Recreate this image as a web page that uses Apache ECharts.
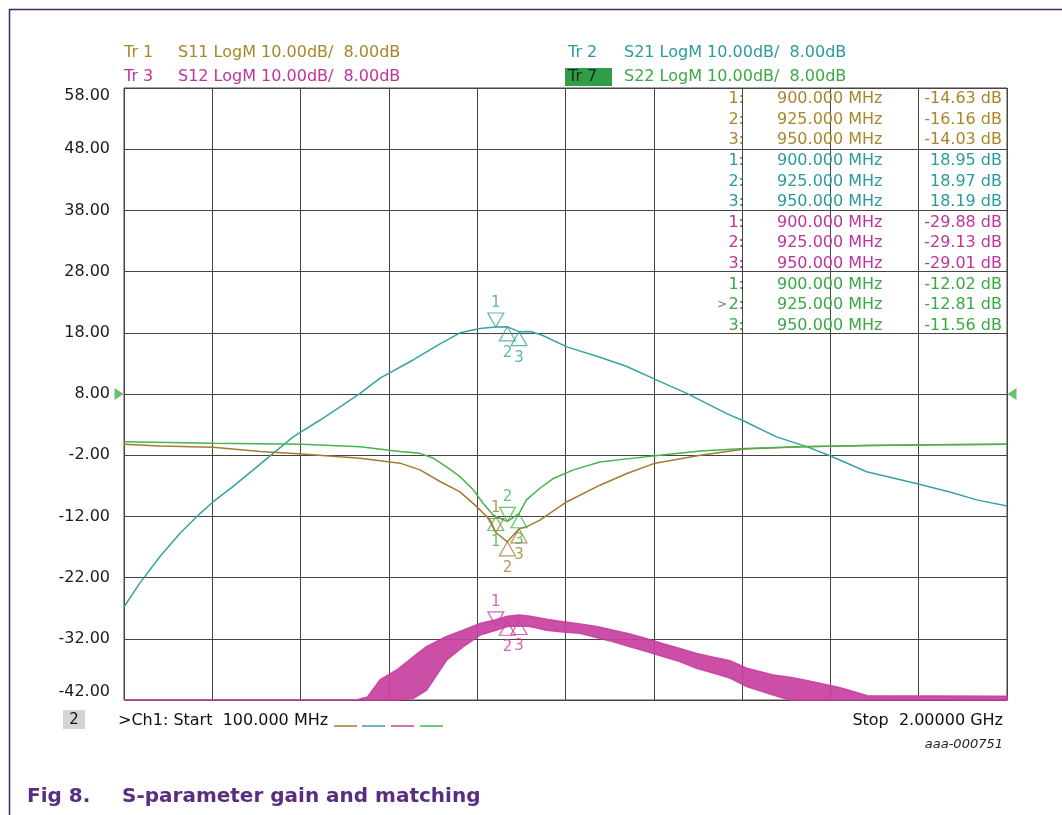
<!DOCTYPE html>
<html><head><meta charset="utf-8">
<script src="https://cdn.jsdelivr.net/npm/echarts@6/dist/echarts.min.js"></script>
<style>html,body{margin:0;padding:0;background:#fff}#c{width:1062px;height:815px}</style>
</head><body><div id="c"></div>
<script>
// ---------------- data ----------------
const freqStart = 100, freqStop = 2000;      // MHz
const yMin = -42, yMax = 58, yStep = 10, xStep = 190;
const refLevel = 8;
const markerNums = [1, 2, 3];
const markerFreqs = [900, 925, 950];

const s11Mk = [-14.63, -16.16, -14.03];
const s21Mk = [18.95, 18.97, 18.19];
const s12Mk = [-29.88, -29.13, -29.01];
const s22Mk = [-12.02, -12.81, -11.56];

const s11Freq = [100,177,292,393,483,608,694,737,780,823,859,888,900,925,950,966,995,1053,1124,1182,1243,1340,1436,1555,1700,1850,2000];
const s11Val  = [-0.2,-0.5,-0.7,-1.4,-1.8,-2.5,-3.3,-4.4,-6.3,-8.0,-10.4,-12.6,-14.63,-16.16,-14.03,-13.7,-12.6,-9.6,-6.9,-5.0,-3.3,-2.0,-1.0,-0.6,-0.4,-0.3,-0.2];

const s21Freq = [100,134,177,220,264,292,335,378,421,464,522,565,608,651,723,780,823,866,900,925,950,975,1000,1053,1124,1182,1243,1311,1397,1436,1504,1569,1619,1698,1809,1877,1935,2000];
const s21Val  = [-26.8,-22.9,-18.6,-14.8,-11.5,-9.6,-7.1,-4.4,-1.7,1.0,3.75,5.9,8.1,10.6,13.6,16.2,18.0,18.7,18.95,18.97,18.19,18.2,17.6,15.7,14.0,12.5,10.4,8.1,4.8,3.5,1.0,-0.6,-2.1,-4.7,-6.7,-8.0,-9.3,-10.3];

const s22Freq = [100,292,483,608,694,737,766,794,823,852,873,895,900,925,950,966,995,1024,1067,1124,1182,1243,1340,1436,1555,1700,1850,2000];
const s22Val  = [0.2,-0.05,-0.2,-0.6,-1.4,-1.7,-2.5,-3.9,-5.5,-7.7,-9.9,-11.8,-12.02,-12.81,-11.56,-9.3,-7.4,-5.8,-4.4,-3.1,-2.6,-2.1,-1.3,-0.9,-0.6,-0.4,-0.3,-0.2];

// S12 is a noisy trace: upper and lower envelope of the noise band
const s12Freq  = [100,600,624,651,687,723,751,794,830,866,900,925,950,974,1009,1045,1081,1117,1153,1189,1225,1260,1296,1332,1368,1404,1440,1497,1533,1569,1641,1700,2000];
const s12Upper = [-42,-42,-41.5,-38.7,-37.1,-34.9,-33.3,-31.6,-30.6,-29.5,-28.9,-28.3,-28.1,-28.3,-28.8,-29.2,-29.6,-30.0,-30.6,-31.2,-32.0,-32.8,-33.6,-34.4,-35.0,-35.6,-36.8,-37.9,-38.3,-38.8,-40.0,-41.3,-41.4];
const s12Lower = [-42,-42,-42,-42,-42,-41.7,-40.4,-35.5,-33.3,-31.4,-30.6,-30.0,-29.9,-30.0,-30.6,-30.9,-31.1,-31.8,-32.5,-33.3,-34.1,-34.9,-35.7,-36.8,-37.6,-38.4,-39.8,-41.2,-42,-42,-42,-42,-42];

// ---------------- style ----------------
const FONT = '"DejaVu Sans", sans-serif';
const trS11 = '#a57a30', trS21 = '#35a3a3', trS12 = '#c8409f', trS22 = '#44b54c';
const txS11 = '#a8862a', txS21 = '#2a9aa0', txS12 = '#c0339a', txS22 = '#3aa845';
const gridCol = '#444';

const DOWN = 'path://M0,0L16,0L8,14Z';
const UP = 'path://M8,0L16,14L0,14Z';

function trace(name, fr, vals, color, z) {
  return {type: 'line', name, data: fr.map((f, i) => [f, vals[i]]), showSymbol: false, symbol: 'none',
    lineStyle: {color, width: 1.5}, itemStyle: {color}, z, silent: true, animation: false};
}
function markers(name, vals, color, sides) {
  return {type: 'scatter', name, clip: false, z: 10, silent: true, animation: false,
    data: vals.map((v, i) => {
      const above = sides[i] === 'a';
      return {value: [markerFreqs[i], v], symbol: above ? DOWN : UP, symbolOffset: [0, above ? -7 : 7],
        label: {show: true, formatter: String(markerNums[i]), position: above ? 'top' : 'bottom', distance: above ? 2 : 4,
          color, fontSize: 15, fontFamily: FONT}};
    }),
    symbolSize: [16, 14],
    itemStyle: {color: 'rgba(255,255,255,0)', borderColor: color, borderWidth: 1.2}};
}

// ---------------- graphic texts ----------------
const g = [];
function txt(x, y, text, fill, size, align, weight) {
  g.push({type: 'text', x, y, silent: true, z: 100,
    style: {text, fill, font: `${weight || ''} ${size || 16}px ${FONT}`, textAlign: align || 'left', textVerticalAlign: 'middle'}});
}
g.push({type: 'line', silent: true, shape: {x1: 9, y1: 9.5, x2: 1062, y2: 9.5}, style: {stroke: '#4a206c', lineWidth: 1.5}});
g.push({type: 'line', silent: true, shape: {x1: 9.5, y1: 9, x2: 9.5, y2: 815}, style: {stroke: '#4a206c', lineWidth: 1.5}});

txt(124, 53, 'Tr 1', txS11); txt(178, 53, 'S11 LogM 10.00dB/  8.00dB', txS11);
txt(124, 77, 'Tr 3', txS12); txt(178, 77, 'S12 LogM 10.00dB/  8.00dB', txS12);
txt(568, 53, 'Tr 2', txS21); txt(624, 53, 'S21 LogM 10.00dB/  8.00dB', txS21);
g.push({type: 'rect', silent: true, shape: {x: 565, y: 68, width: 47, height: 18}, style: {fill: '#2f9e46'}});
txt(568, 77, 'Tr 7', '#1c2a1c'); txt(624, 77, 'S22 LogM 10.00dB/  8.00dB', txS22);

[[s11Mk, txS11], [s21Mk, txS21], [s12Mk, txS12], [s22Mk, txS22]].forEach(([vals, c], k) => {
  vals.forEach((v, i) => {
    const y = 99 + (k * 3 + i) * 20.6;
    txt(744, y, markerNums[i] + ':', c, 16, 'right');
    txt(777, y, markerFreqs[i].toFixed(3) + ' MHz', c);
    txt(1002, y, v.toFixed(2) + ' dB', c, 16, 'right');
  });
});
txt(727, 99 + 10 * 20.6, '>', '#777', 12, 'right');

g.push({type: 'rect', silent: true, shape: {x: 63, y: 710, width: 22, height: 19}, style: {fill: '#d4d4d4'}});
txt(74, 720, '2', '#111', 15, 'center');
txt(118, 721, '>Ch1: Start  ' + freqStart.toFixed(3) + ' MHz', '#111');
[[334, trS11], [362, trS21], [391, trS12], [420, trS22]].forEach(([x, c]) => {
  g.push({type: 'line', silent: true, shape: {x1: x, y1: 726, x2: x + 23, y2: 726}, style: {stroke: c, lineWidth: 1.5}});
});
txt(1003, 721, 'Stop  ' + (freqStop / 1000).toFixed(5) + ' GHz', '#111', 16, 'right');
txt(1003, 745, 'aaa-000751', '#222', 13, 'right', 'italic');
txt(27, 797, 'Fig 8.', '#5a2d82', 20, 'left', 'bold');
txt(122, 797, 'S-parameter gain and matching', '#5a2d82', 20, 'left', 'bold');

// ---------------- chart ----------------
const chart = echarts.init(document.getElementById('c'));
chart.setOption({
  animation: false,
  backgroundColor: '#fff',
  grid: {left: 124, top: 88, right: 55, bottom: 115, show: true, borderColor: gridCol, borderWidth: 1, containLabel: false, outerBoundsMode: 'none'},
  xAxis: {type: 'value', min: freqStart, max: freqStop, interval: xStep,
    axisLine: {show: false}, axisTick: {show: false}, axisLabel: {show: false},
    splitLine: {show: true, lineStyle: {color: gridCol, width: 1}}},
  yAxis: {type: 'value', min: yMin, max: yMax, interval: yStep,
    axisLine: {show: false}, axisTick: {show: false},
    axisLabel: {show: true, formatter: v => v.toFixed(2), color: '#1a1a1a', fontSize: 16, fontFamily: FONT, margin: 14,
      verticalAlignMaxLabel: 'top', verticalAlignMinLabel: 'bottom'},
    splitLine: {show: true, lineStyle: {color: gridCol, width: 1}}},
  series: [
    {type: 'custom', name: 'S12 band', data: [[freqStart, yMin]], z: 3, silent: true, clip: false,
      renderItem: (params, api) => {
        const pts = [];
        for (let i = 0; i < s12Freq.length; i++) pts.push(api.coord([s12Freq[i], s12Upper[i]]));
        for (let i = s12Freq.length - 1; i >= 0; i--) pts.push(api.coord([s12Freq[i], s12Lower[i]]));
        return {type: 'polygon', shape: {points: pts}, style: {fill: trS12, opacity: 0.92, stroke: trS12, lineWidth: 1.5}};
      }},
    trace('S21', s21Freq, s21Val, trS21, 4),
    trace('S11', s11Freq, s11Val, trS11, 5),
    trace('S22', s22Freq, s22Val, trS22, 6),
    markers('S21 mk', s21Mk, trS21, ['a', 'b', 'b']),
    markers('S12 mk', s12Mk, trS12, ['a', 'b', 'b']),
    markers('S11 mk', s11Mk, trS11, ['a', 'b', 'b']),
    markers('S22 mk', s22Mk, trS22, ['b', 'a', 'b']),
    {type: 'scatter', name: 'ref', clip: false, silent: true, z: 10,
      data: [
        {value: [freqStart, refLevel], symbol: 'path://M0,0L10,6L0,12Z', symbolOffset: [-5, 0]},
        {value: [freqStop, refLevel], symbol: 'path://M10,0L0,6L10,12Z', symbolOffset: [5, 0]}
      ],
      symbolSize: [9, 12], itemStyle: {color: '#3cb44b'}}
  ],
  graphic: g
});
</script>
</body></html>
